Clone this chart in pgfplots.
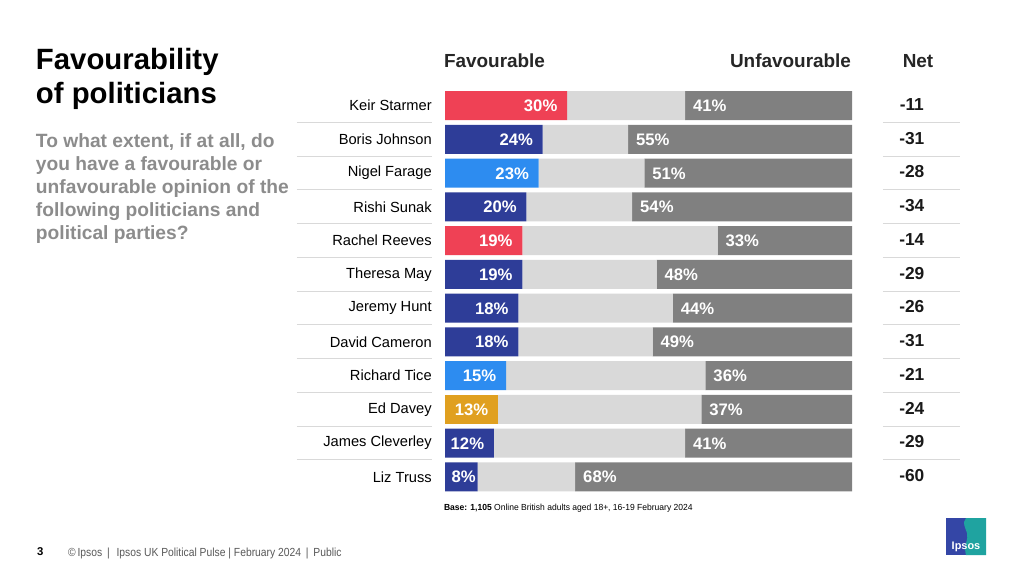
\documentclass[border=0pt]{standalone}
\usepackage{fontspec}
\setmainfont{Liberation Sans}
\newfontfamily\narrowfont[FakeStretch=0.88]{Liberation Sans}
\newfontfamily\basefont[FakeStretch=0.97]{Liberation Sans}
\usepackage{pgfplots}
\usepackage{pgfplotstable}
\pgfplotsset{compat=1.18}

\definecolor{labred}{HTML}{EF4155}
\definecolor{conblue}{HTML}{2E3D98}
\definecolor{refblue}{HTML}{2D8CF0}
\definecolor{ldgold}{HTML}{E0A020}
\definecolor{midgrey}{HTML}{D9D9D9}
\definecolor{unfgrey}{HTML}{808080}
\definecolor{sepgrey}{HTML}{D9D9D9}
\definecolor{subgrey}{HTML}{8C8C8C}
\definecolor{footgrey}{HTML}{595959}
\definecolor{ipsblue}{HTML}{3446A6}
\definecolor{ipsteal}{HTML}{1FA3A0}

\tikzset{lbl/.style={inner sep=0pt, text height=0.72em, text depth=0pt,
    font=\fontsize{12.5}{14}\selectfont\bfseries}}

% Favourable share split by party colour, then the middle (neither / don't know),
% unfavourable share and net score; pad = gap (px) between label and bar end
\pgfplotstableread[col sep=comma]{
name,lab,con,ref,ld,fav,mid,unf,net,pad
Keir Starmer,30,0,0,0,30,29,41,-11,9.5
Boris Johnson,0,24,0,0,24,21,55,-31,9.5
Nigel Farage,0,0,23,0,23,26,51,-28,9.5
Rishi Sunak,0,20,0,0,20,26,54,-34,9.5
Rachel Reeves,19,0,0,0,19,48,33,-14,9.5
Theresa May,0,19,0,0,19,33,48,-29,9.5
Jeremy Hunt,0,18,0,0,18,38,44,-26,9.5
David Cameron,0,18,0,0,18,33,49,-31,9.5
Richard Tice,0,0,15,0,15,49,36,-21,9.5
Ed Davey,0,0,0,13,13,50,37,-24,9.5
James Cleverley,0,12,0,0,12,47,41,-29,9.5
Liz Truss,0,8,0,0,8,24,68,-60,1.5
}\ratings

\pgfplotsset{
  panel/.style={
    at={(333.75pt,-66.469pt)}, anchor=north west,
    scale only axis, width=305.25pt, height=303.75pt,
    xmin=0, xmax=100, ymin=-0.5, ymax=11.5, y dir=reverse,
    clip=false,
  }
}

\begin{document}
\begin{tikzpicture}
\begin{scope}[x=0.75pt, y=-0.75pt, every node/.style={inner sep=0pt, outer sep=0pt},
  q/.style={anchor=base west, text=subgrey, font=\fontsize{14.4}{17}\selectfont\bfseries}]
  \fill[white] (0,0) rectangle (1024,576);
  \useasboundingbox (0,0) rectangle (1024,576);
  % title and question
  \node[anchor=base west, font=\fontsize{22}{26}\selectfont\bfseries] at (36,69.3) {Favourability};
  \node[anchor=base west, font=\fontsize{22}{26}\selectfont\bfseries] at (36,103.3) {of politicians};
  \node[q] at (36,147.3) {To what extent, if at all, do};
  \node[q] at (36,170.3) {you have a favourable or};
  \node[q] at (36,193.3) {unfavourable opinion of the};
  \node[q] at (36,216.3) {following politicians and};
  \node[q] at (36,239.3) {political parties?};
  % column headers
  \node[anchor=base west, font=\fontsize{14.2}{17}\selectfont\bfseries, text=black!85] at (444,67) {Favourable};
  \node[anchor=base east, font=\fontsize{14.2}{17}\selectfont\bfseries, text=black!85] at (851,67) {Unfavourable};
  \node[anchor=base, font=\fontsize{14.2}{17}\selectfont\bfseries, text=black!85] at (918,67) {Net};
  % base note and footer
  \node[anchor=base west, font=\basefont\fontsize{6.6}{8}\selectfont] at (444,510.5)
    {\textbf{Base: 1,105} Online British adults aged 18+, 16-19 February 2024};
  \node[anchor=base west, font=\fontsize{8.5}{10}\selectfont\bfseries] at (37,555.5) {3};
  \node[anchor=base west, text=footgrey, font=\narrowfont\fontsize{8.8}{10}\selectfont] at (68,556.5)
    {\textcopyright\,Ipsos \,|\, \,Ipsos UK Political Pulse | February 2024 \,|\, Public};
  % logo
  \fill[ipsblue] (946,518) rectangle (986,555);
  \fill[ipsteal] (966,518) -- (986,518) -- (986,555) -- (966,555)
     .. controls (963,545) and (969,540) .. (967,533) .. controls (965,527) and (962,523) .. (966,518) -- cycle;
  \node[text=white, font=\fontsize{8.2}{9}\selectfont\bfseries] at (966,547) {Ipsos};
\end{scope}

% stacked bars
\begin{axis}[
  panel,
  xbar stacked, bar width=21.75pt,
  axis line style={draw=none},
  xtick=\empty, ytick={0,...,11},
  yticklabels from table={\ratings}{name},
  major tick length=0pt,
  yticklabel style={anchor=east, inner sep=0pt, xshift=-9.75pt,
    font=\fontsize{11}{13}\selectfont},
  every axis plot/.append style={draw=none},
]
\addplot[fill=labred] table[x=lab, y expr=\coordindex]{\ratings};
\addplot[fill=conblue] table[x=con, y expr=\coordindex]{\ratings};
\addplot[fill=refblue] table[x=ref, y expr=\coordindex]{\ratings};
\addplot[fill=ldgold] table[x=ld, y expr=\coordindex]{\ratings};
\addplot[fill=midgrey] table[x=mid, y expr=\coordindex]{\ratings};
\addplot[fill=unfgrey] table[x=unf, y expr=\coordindex]{\ratings};
% row separators beside the names and the net column
\pgfplotsinvokeforeach{0,...,10}{
  \draw[sepgrey, line width=0.75pt] (axis cs:-36.4,#1+0.5) -- (axis cs:-3.2,#1+0.5);
  \draw[sepgrey, line width=0.75pt] (axis cs:107.6,#1+0.5) -- (axis cs:126.5,#1+0.5);
}
\end{axis}

% value labels and net scores
\begin{axis}[panel, hide axis]
\addplot[draw=none, mark=none, point meta=explicit symbolic,
  nodes near coords={\pgfplotspointmeta\%},
  visualization depends on={\thisrow{pad} \as \fpad},
  every node near coord/.append style={lbl, text=white, anchor=east, xshift=-\fpad*0.75pt, yshift=-1pt}]
  table[x=fav, y expr=\coordindex, meta=fav]{\ratings};
\addplot[draw=none, mark=none, point meta=explicit symbolic,
  nodes near coords={\pgfplotspointmeta\%},
  every node near coord/.append style={lbl, text=white, anchor=west, xshift=5.8pt, yshift=-1pt}]
  table[x expr=100-\thisrow{unf}, y expr=\coordindex, meta=unf]{\ratings};
\addplot[draw=none, mark=none, point meta=explicit symbolic,
  nodes near coords={\pgfplotspointmeta},
  every node near coord/.append style={inner sep=0pt, text height=0.72em, text depth=0pt,
    font=\fontsize{13}{15}\selectfont\bfseries, text=black!90, anchor=center}]
  table[x expr=114.7, y expr=\coordindex, meta=net]{\ratings};
\end{axis}
\end{tikzpicture}
\end{document}
